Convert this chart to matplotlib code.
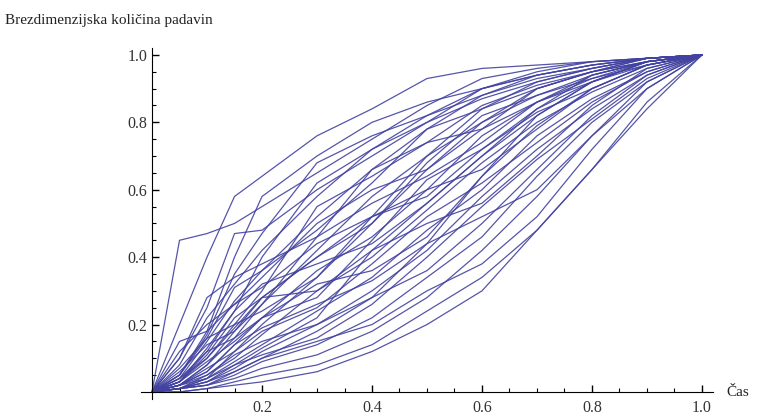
import numpy as np
import matplotlib
matplotlib.use("Agg")
from matplotlib import pyplot as plt
from matplotlib.ticker import MultipleLocator, FixedLocator

# common time grid (dimensionless)
t = [0, 0.05, 0.1, 0.15, 0.2, 0.3, 0.4, 0.5, 0.6, 0.7, 0.8, 0.9, 1.0]

# dimensionless cumulative rainfall, one list per event
rain = [
    [0, .45, .47, .50, .55, .65, .75, .85, .93, .96, .98, .99, 1],
    [0, .20, .40, .58, .64, .76, .84, .93, .96, .97, .98, .99, 1],
    [0, .10, .25, .47, .48, .60, .70, .80, .90, .94, .97, .99, 1],
    [0, .15, .18, .40, .58, .70, .80, .86, .90, .94, .97, .99, 1],
    [0, .05, .17, .35, .47, .68, .76, .82, .88, .93, .96, .99, 1],
    [0, .08, .22, .32, .42, .58, .72, .80, .87, .92, .96, .99, 1],
    [0, .04, .15, .27, .36, .48, .62, .78, .84, .90, .95, .98, 1],
    [0, .03, .10, .20, .30, .55, .64, .74, .85, .91, .95, .98, 1],
    [0, .02, .08, .18, .26, .42, .58, .70, .80, .88, .94, .98, 1],
    [0, .05, .16, .20, .24, .34, .50, .68, .82, .88, .93, .97, 1],
    [0, .02, .06, .14, .22, .36, .46, .60, .76, .86, .92, .97, 1],
    [0, .03, .12, .16, .22, .28, .45, .63, .72, .83, .90, .97, 1],
    [0, .01, .05, .10, .17, .30, .40, .54, .68, .80, .89, .96, 1],
    [0, .02, .07, .12, .18, .25, .38, .52, .62, .74, .86, .95, 1],
    [0, .01, .04, .09, .14, .24, .34, .48, .60, .76, .87, .95, 1],
    [0, .01, .03, .07, .12, .20, .30, .42, .58, .72, .84, .94, 1],
    [0, .02, .04, .08, .11, .16, .26, .40, .55, .69, .81, .93, 1],
    [0, .01, .02, .05, .09, .14, .22, .34, .46, .64, .80, .92, 1],
    [0, .01, .02, .04, .07, .11, .18, .28, .42, .58, .76, .90, 1],
    [0, .00, .01, .03, .05, .08, .14, .24, .34, .48, .66, .86, 1],
    [0, .00, .01, .02, .03, .06, .12, .20, .30, .48, .66, .84, 1],
    [0, .06, .14, .18, .28, .40, .52, .60, .66, .78, .90, .97, 1],
    [0, .10, .28, .34, .38, .46, .56, .64, .74, .86, .93, .98, 1],
    [0, .12, .20, .26, .34, .50, .60, .66, .78, .90, .95, .99, 1],
    [0, .04, .12, .24, .32, .38, .44, .56, .70, .82, .92, .98, 1],
    [0, .03, .09, .15, .22, .32, .36, .46, .64, .79, .90, .97, 1],
    [0, .02, .05, .11, .15, .20, .28, .36, .50, .66, .82, .94, 1],
    [0, .01, .03, .06, .10, .15, .20, .30, .38, .52, .72, .90, 1],
    [0, .05, .18, .26, .31, .44, .52, .58, .72, .84, .92, .98, 1],
    [0, .07, .16, .31, .36, .52, .66, .74, .78, .86, .94, .98, 1],
    [0, .03, .11, .22, .28, .30, .42, .50, .56, .70, .85, .96, 1],
    [0, .02, .06, .14, .19, .26, .33, .44, .52, .60, .76, .92, 1],
    [0, .01, .04, .12, .20, .34, .52, .70, .84, .92, .96, .99, 1],
    [0, .02, .08, .16, .26, .46, .66, .78, .88, .94, .97, .99, 1],
    [0, .04, .10, .19, .28, .40, .50, .66, .80, .90, .95, .99, 1],
    [0, .01, .02, .06, .10, .18, .28, .44, .64, .82, .92, .98, 1],
    [0, .03, .13, .24, .40, .62, .72, .82, .90, .95, .98, .99, 1],
    [0, .01, .03, .08, .13, .22, .42, .56, .70, .84, .94, .98, 1],
]

x_ticks = [0.2, 0.4, 0.6, 0.8, 1.0]
y_ticks = [0.2, 0.4, 0.6, 0.8, 1.0]

plt.rcParams['font.family'] = ['Liberation Serif', 'DejaVu Serif']

fig = plt.figure(figsize=(7.61, 4.18), dpi=100)
ax = fig.add_axes([0.1853, 0.0462, 0.7516, 0.8385])

for y in rain:
    ax.plot(t, y, color='#4242a0', lw=0.9, alpha=0.9)

ax.set_xlim(-0.02, 1.02)
ax.set_ylim(-0.02, 1.02)

for s in ['top', 'right']:
    ax.spines[s].set_visible(False)
ax.spines['left'].set_position(('data', 0))
ax.spines['bottom'].set_position(('data', 0))
ax.spines['left'].set_bounds(-0.02, 1.02)
ax.spines['bottom'].set_bounds(-0.02, 1.02)

ax.xaxis.set_major_locator(FixedLocator(x_ticks))
ax.yaxis.set_major_locator(FixedLocator(y_ticks))
ax.xaxis.set_minor_locator(MultipleLocator(0.05))
ax.yaxis.set_minor_locator(MultipleLocator(0.05))
ax.tick_params(which='major', direction='in', length=5, width=1, labelsize=11.5,
               labelcolor='#333333')
ax.tick_params(which='minor', direction='in', length=3, width=0.8)
ax.tick_params(axis='x', pad=6)
ax.set_xticklabels([f'{v:.1f}' for v in x_ticks])
ax.set_yticklabels([f'{v:.1f}' for v in y_ticks])

fig.text(0.007, 0.952, 'Brezdimenzijska količina padavin', fontsize=11,
         va='center', ha='left', color='#222222')
fig.text(0.955, 0.062, 'Čas', fontsize=11, va='center', ha='left', color='#222222')

fig.savefig('out.png', dpi=100)
